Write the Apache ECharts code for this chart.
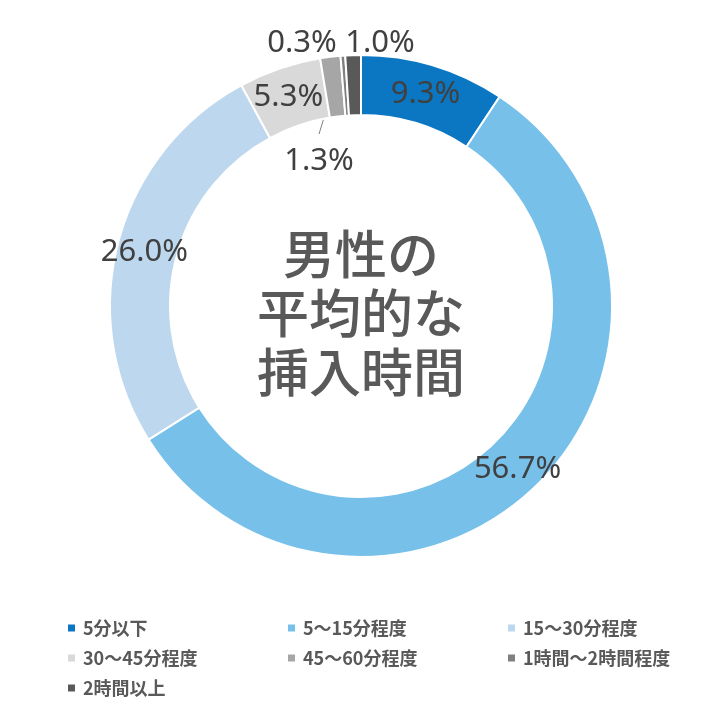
<!DOCTYPE html>
<html>
<head>
<meta charset="utf-8">
<script src="https://cdn.jsdelivr.net/npm/echarts@6/dist/echarts.min.js"></script>
<style>
html,body{margin:0;padding:0;background:#fff;}
#chart{width:722px;height:715px;}
</style>
</head>
<body>
<div id="chart"></div>
<script>
const categories = ['5分以下', '5～15分程度', '15～30分程度', '30～45分程度', '45～60分程度', '1時間～2時間程度', '2時間以上'];
const values = [9.3, 56.7, 26.0, 5.3, 1.3, 0.3, 1.0];
const colors = ['#0B77C3', '#76C0EA', '#BDD7EE', '#D9D9D9', '#A6A6A6', '#808080', '#595959'];
const centerTitle = '男性の\n平均的な\n挿入時間';

const CX = 361, CY = 306, R_OUT = 251, R_IN = 191;
// label placement offsets relative to chart center for small slices (layout only)
const labelPlace = {
  4: {x: -42, y: -145, line: [[-34, -198], [-42, -172]]},
  5: {x: -59, y: -263},
  6: {x: 19, y: -263}
};

const chart = echarts.init(document.getElementById('chart'), null, {renderer: 'canvas'});

const data = categories.map((name, i) => {
  const d = {name: name, value: values[i], itemStyle: {color: colors[i]}};
  if (i === 4) {
    d.label = {position: 'outside'};
    d.labelLine = {show: true, length: 5, length2: 5, lineStyle: {color: '#7f7f7f', width: 1}};
  }
  if (i === 5 || i === 6) {
    d.label = {position: 'outside'};
    d.labelLine = {show: false};
  }
  return d;
});

chart.setOption({
  animation: false,
  backgroundColor: '#ffffff',
  title: {
    text: centerTitle,
    left: 'center',
    top: 220,
    textStyle: {
      fontFamily: 'Noto Sans CJK JP',
      fontSize: 52,
      lineHeight: 59,
      fontWeight: 500,
      color: '#595959'
    }
  },
  legend: {
    left: 66,
    top: 618,
    width: 660,
    padding: 0,
    orient: 'horizontal',
    itemWidth: 9,
    itemHeight: 9,
    itemGap: 10,
    icon: 'rect',
    selectedMode: false,
    data: categories,
    textStyle: {
      fontFamily: 'Noto Sans CJK JP',
      fontSize: 18,
      fontWeight: 'bold',
      color: '#595959',
      width: 193,
      lineHeight: 20,
      padding: [0, 0, 0, 2]
    }
  },
  series: [{
    type: 'pie',
    center: [CX, CY],
    radius: [R_IN, R_OUT],
    startAngle: 90,
    clockwise: true,
    avoidLabelOverlap: false,
    minAngle: 0,
    itemStyle: {borderColor: '#ffffff', borderWidth: 2},
    label: {
      show: true,
      position: 'inside',
      formatter: p => p.value.toFixed(1) + '%',
      fontFamily: 'Noto Sans',
      fontSize: 31,
      color: '#404040',
      fontWeight: 'normal'
    },
    emphasis: {disabled: true},
    labelLayout: function (params) {
      const pl = labelPlace[params.dataIndex];
      if (!pl) return {dy: 3};
      const out = {
        x: CX + pl.x,
        y: CY + pl.y,
        align: 'center',
        verticalAlign: 'middle'
      };
      if (pl.line) {
        out.labelLinePoints = pl.line.map(pt => [CX + pt[0], CY + pt[1]]);
      }
      return out;
    },
    data: data
  }]
});
</script>
</body>
</html>
